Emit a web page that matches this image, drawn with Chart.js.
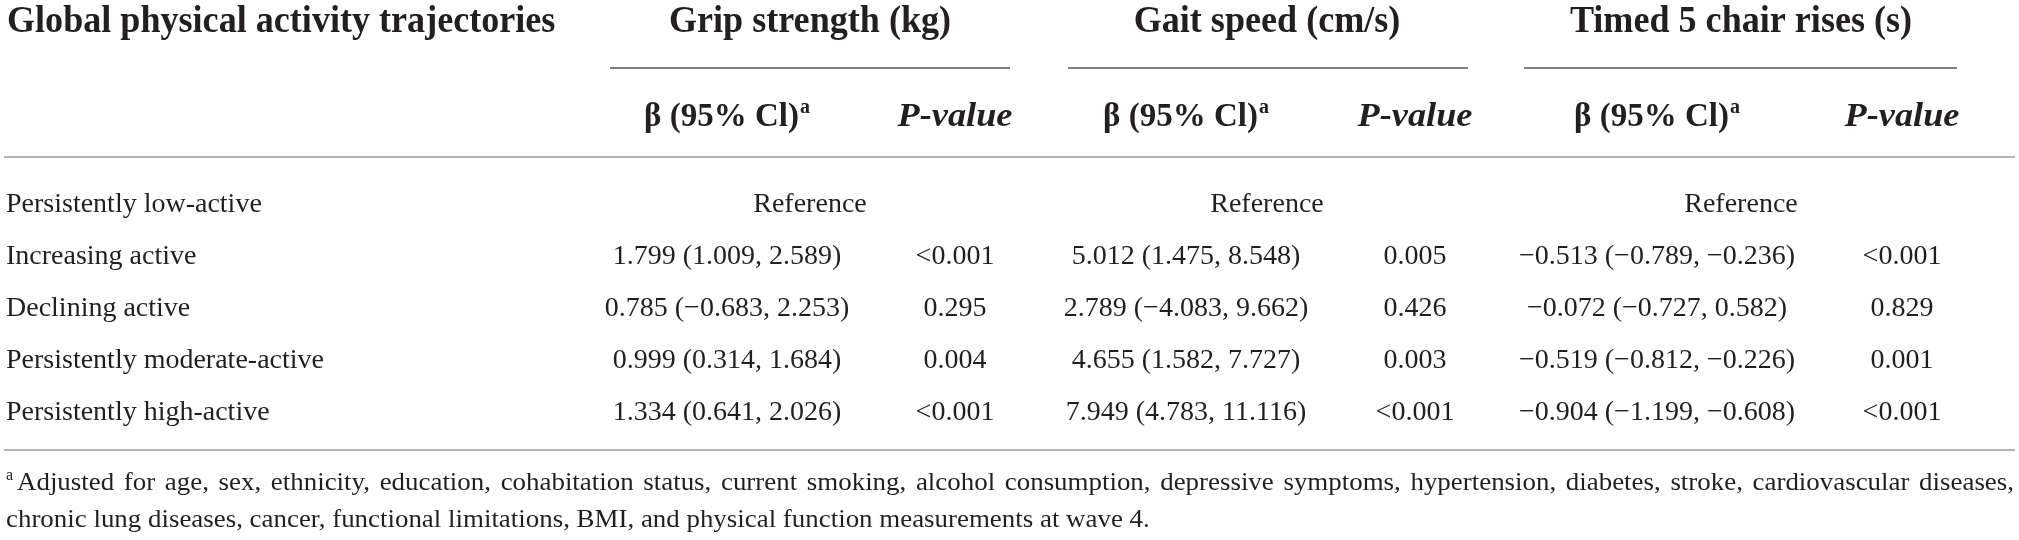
<!DOCTYPE html>
<html>
<head>
<meta charset="utf-8">
<script src="https://cdn.jsdelivr.net/npm/chart.js@4.4.1/dist/chart.umd.min.js"></script>
<style>
  html, body { margin: 0; padding: 0; background: #fff; overflow: hidden; }
  canvas { display: block; }
</style>
</head>
<body>
<canvas id="tbl" width="2019" height="540"></canvas>
<script>
// 表格資料
const stubHead = 'Global physical activity trajectories';
const outcomes = ['Grip strength (kg)', 'Gait speed (cm/s)', 'Timed 5 chair rises (s)'];
const betaHead = 'β (95% Cl)';
const pHead = 'P-value';
const trajectories = [
    'Persistently low-active',
    'Increasing active',
    'Declining active',
    'Persistently moderate-active',
    'Persistently high-active'
];
const gripBeta = ['Reference', '1.799 (1.009, 2.589)', '0.785 (−0.683, 2.253)', '0.999 (0.314, 1.684)', '1.334 (0.641, 2.026)'];
const gripP = ['', '<0.001', '0.295', '0.004', '<0.001'];
const gaitBeta = ['Reference', '5.012 (1.475, 8.548)', '2.789 (−4.083, 9.662)', '4.655 (1.582, 7.727)', '7.949 (4.783, 11.116)'];
const gaitP = ['', '0.005', '0.426', '0.003', '<0.001'];
const chairBeta = ['Reference', '−0.513 (−0.789, −0.236)', '−0.072 (−0.727, 0.582)', '−0.519 (−0.812, −0.226)', '−0.904 (−1.199, −0.608)'];
const chairP = ['', '<0.001', '0.829', '0.001', '<0.001'];
const footnotes = [
    'Adjusted for age, sex, ethnicity, education, cohabitation status, current smoking, alcohol consumption, depressive symptoms, hypertension, diabetes, stroke, cardiovascular diseases,',
    'chronic lung diseases, cancer, functional limitations, BMI, and physical function measurements at wave 4.'
];

// 版面 (x 以像素為單位，y 以資料列為單位)
const LABEL_X = 6;
const GROUP_X = [810, 1267, 1741];
const GROUP_LINE = [[610, 1010], [1068, 1468], [1524, 1957]];
const BETA_X = [727, 1186, 1657];
const P_X = [955, 1415, 1902];
const HEAD_Y = -3.46, GROUP_LINE_Y = -2.77, SUB_Y = -1.65, TOP_LINE_Y = -1.06, BOTTOM_LINE_Y = 4.58;
const FOOT_X = [17, 6];
const FOOT_Y = [5.35, 6.06];

const TEXT = '#231f20';
const SERIF = '"Liberation Serif", "DejaVu Serif", serif';
const STYLES = {
    head: { font: 'bold 38px ' + SERIF, sx: 0.95 },
    sub: { font: 'bold 33px ' + SERIF, sx: 1, sup: 'a', supFont: 'bold 20px ' + SERIF, supRise: 13 },
    subP: { font: 'italic bold 33px ' + SERIF, sx: 1.1 },
    body: { font: '28px ' + SERIF, sx: 1 },
    foot: { font: '26px ' + SERIF, sx: 1.035 }
};

function drawCell(ctx, txt, x, y, st, align) {
    if (!txt) return;
    ctx.save();
    ctx.fillStyle = TEXT;
    ctx.textBaseline = 'alphabetic';
    ctx.textAlign = 'left';
    ctx.font = st.font;
    const w = ctx.measureText(txt).width;
    let supW = 0;
    if (st.sup) {
        ctx.font = st.supFont;
        supW = ctx.measureText(st.sup).width + 1;
        ctx.font = st.font;
    }
    const total = (w + supW) * st.sx;
    const x0 = align === 'left' ? x : x - total / 2;
    ctx.translate(x0, y);
    ctx.scale(st.sx, 1);
    ctx.fillText(txt, 0, 0);
    if (st.sup) {
        ctx.font = st.supFont;
        ctx.fillText(st.sup, w + 1, -st.supRise);
    }
    ctx.restore();
}

// 兩端對齊的註腳
function drawJustified(ctx, txt, x, y, right, st) {
    ctx.save();
    ctx.fillStyle = TEXT;
    ctx.textBaseline = 'alphabetic';
    ctx.font = st.font;
    const words = txt.split(' ');
    const widths = words.map(w => ctx.measureText(w).width * st.sx);
    const sum = widths.reduce((a, b) => a + b, 0);
    const gap = words.length > 1 ? (right - x - sum) / (words.length - 1) : 0;
    let cx = x;
    words.forEach((w, i) => {
        ctx.save();
        ctx.translate(cx, y);
        ctx.scale(st.sx, 1);
        ctx.fillText(w, 0, 0);
        ctx.restore();
        cx += widths[i] + gap;
    });
    ctx.restore();
}

const outcomeBeta = [gripBeta, gaitBeta, chairBeta];
const outcomeP = [gripP, gaitP, chairP];

const datasets = [];
datasets.push({ kind: 'stubHead', cells: [stubHead], st: 'head', align: 'left', data: [{ x: 7, y: HEAD_Y }] });
datasets.push({ kind: 'outcomes', cells: outcomes, st: 'head', data: outcomes.map((o, g) => ({ x: GROUP_X[g], y: HEAD_Y })) });
datasets.push({ kind: 'subBeta', cells: outcomes.map(() => betaHead), st: 'sub', data: outcomes.map((o, g) => ({ x: BETA_X[g], y: SUB_Y })) });
datasets.push({ kind: 'subP', cells: outcomes.map(() => pHead), st: 'subP', data: outcomes.map((o, g) => ({ x: P_X[g], y: SUB_Y })) });
datasets.push({ kind: 'labels', cells: trajectories, st: 'body', align: 'left', data: trajectories.map((t, i) => ({ x: LABEL_X, y: i })) });
outcomeBeta.forEach((arr, g) => {
    // 參考組置中跨兩欄
    datasets.push({ kind: 'beta', cells: arr, st: 'body', data: arr.map((v, i) => ({ x: outcomeP[g][i] === '' ? GROUP_X[g] : BETA_X[g], y: i })) });
});
outcomeP.forEach((arr, g) => {
    datasets.push({ kind: 'p', cells: arr, st: 'body', data: arr.map((v, i) => ({ x: P_X[g], y: i })) });
});
datasets.push({ kind: 'foot', cells: footnotes, st: 'foot', data: footnotes.map((f, i) => ({ x: FOOT_X[i], y: FOOT_Y[i] })) });
datasets.forEach(d => { d.pointRadius = 0; d.pointHoverRadius = 0; d.showLine = false; });

const tablePlugin = {
    id: 'tablePlugin',
    beforeDatasetsDraw(chart) {
        const ctx = chart.ctx;
        const xs = chart.scales.x, ys = chart.scales.y;
        ctx.save();
        ctx.lineWidth = 2;
        ctx.strokeStyle = '#808080';
        GROUP_LINE.forEach(([a, b]) => {
            const y = Math.round(ys.getPixelForValue(GROUP_LINE_Y));
            ctx.beginPath();
            ctx.moveTo(xs.getPixelForValue(a), y);
            ctx.lineTo(xs.getPixelForValue(b), y);
            ctx.stroke();
        });
        ctx.strokeStyle = '#b4b4b4';
        [TOP_LINE_Y, BOTTOM_LINE_Y].forEach(v => {
            const y = Math.round(ys.getPixelForValue(v));
            ctx.beginPath();
            ctx.moveTo(xs.getPixelForValue(4), y);
            ctx.lineTo(xs.getPixelForValue(2015), y);
            ctx.stroke();
        });
        ctx.restore();
    },
    afterDatasetsDraw(chart) {
        const ctx = chart.ctx;
        chart.data.datasets.forEach((ds, di) => {
            const meta = chart.getDatasetMeta(di);
            const st = STYLES[ds.st];
            meta.data.forEach((pt, j) => {
                const txt = ds.cells[j];
                if (ds.kind === 'foot') {
                    if (j === 0) {
                        drawJustified(ctx, txt, pt.x, pt.y, chart.scales.x.getPixelForValue(2014), st);
                        ctx.save();
                        ctx.fillStyle = TEXT;
                        ctx.font = '16px ' + SERIF;
                        ctx.fillText('a', 6, pt.y - 10);
                        ctx.restore();
                    } else {
                        drawCell(ctx, txt, pt.x, pt.y, st, 'left');
                    }
                } else {
                    drawCell(ctx, txt, pt.x, pt.y, st, ds.align);
                }
            });
        });
    }
};

new Chart(document.getElementById('tbl'), {
    type: 'scatter',
    data: { datasets },
    options: {
        responsive: false,
        animation: false,
        devicePixelRatio: 1,
        events: [],
        layout: { padding: 0 },
        scales: {
            x: { type: 'linear', min: 0, max: 2019, display: false },
            y: { type: 'linear', min: -4.077, max: 6.3077, reverse: true, display: false }
        },
        plugins: { legend: { display: false }, tooltip: { enabled: false } }
    },
    plugins: [tablePlugin]
});
</script>
</body>
</html>
